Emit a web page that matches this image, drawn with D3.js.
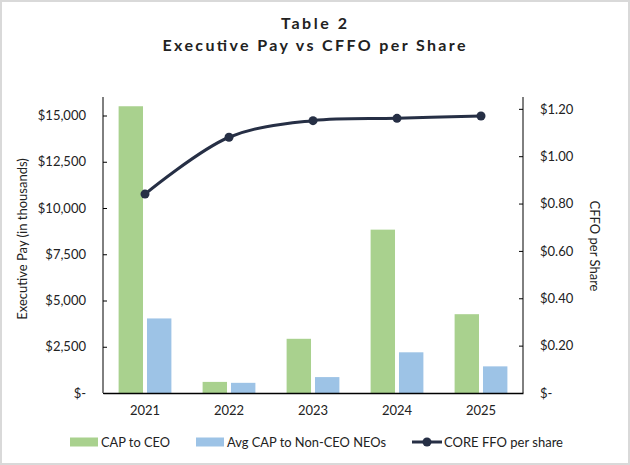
<!DOCTYPE html>
<html>
<head>
<meta charset="utf-8">
<script src="https://cdn.jsdelivr.net/npm/d3@7"></script>
<style>
  body { margin: 0; background: #fff; }
  svg text { font-family: Lato, "Open Sans", sans-serif; fill: #222; }
</style>
</head>
<body>
<div id="chart"></div>
<script>
// data
var years = ["2021", "2022", "2023", "2024", "2025"];
var capCeo = [15500, 600, 2930, 8830, 4260];
var capNeo = [4030, 550, 860, 2200, 1440];
var coreFfo = [0.84, 1.08, 1.15, 1.16, 1.17];
var payTicks = [0, 2500, 5000, 7500, 10000, 12500, 15000];
var ffoTicks = [0, 0.2, 0.4, 0.6, 0.8, 1.0, 1.2];
var seriesNames = ["CAP to CEO", "Avg CAP to Non-CEO NEOs", "CORE FFO per share"];

var svgWidth = 630;
var svgHeight = 465;
var margin = { top: 97, right: 107, bottom: 72, left: 103 };
var width = svgWidth - margin.left - margin.right;
var height = svgHeight - margin.top - margin.bottom;

var green = "#a9d18e", blue = "#9dc3e6", navy = "#262f45";

var svg = d3.select("#chart").append("svg")
  .attr("width", svgWidth)
  .attr("height", svgHeight);

svg.append("rect")
  .attr("x", 1).attr("y", 1)
  .attr("width", svgWidth - 2).attr("height", svgHeight - 2)
  .attr("fill", "#fff")
  .attr("stroke", "#d9d9d9")
  .attr("stroke-width", 2);

// title
svg.append("text")
  .attr("x", 314).attr("y", 29)
  .attr("text-anchor", "middle")
  .attr("textLength", 66).attr("lengthAdjust", "spacing")
  .style("font-size", "16px").style("font-weight", "bold")
  .text("Table 2");
svg.append("text")
  .attr("x", 314).attr("y", 51)
  .attr("text-anchor", "middle")
  .attr("textLength", 303).attr("lengthAdjust", "spacing")
  .style("font-size", "16px").style("font-weight", "bold")
  .text("Executive Pay vs CFFO per Share");

var chartGroup = svg.append("g")
  .attr("transform", `translate(${margin.left}, ${margin.top})`);

var x0 = d3.scaleBand().domain(years).range([0, width]);
var x1 = d3.scaleBand().domain([0, 1]).range([0, x0.bandwidth()])
  .paddingInner(0.14).paddingOuter(0.55);
var yLeft = d3.scaleLinear().domain([0, 16000]).range([height, 0]);
var yRight = d3.scaleLinear().domain([0, 1.25]).range([height, 0]);

// bars
var groups = chartGroup.selectAll(".year")
  .data(years)
  .enter()
  .append("g")
  .attr("transform", d => `translate(${x0(d)},0)`);

groups.append("rect")
  .attr("x", x1(0))
  .attr("width", x1.bandwidth())
  .attr("y", (d, i) => yLeft(capCeo[i]))
  .attr("height", (d, i) => height - yLeft(capCeo[i]))
  .attr("fill", green);

groups.append("rect")
  .attr("x", x1(1))
  .attr("width", x1.bandwidth())
  .attr("y", (d, i) => yLeft(capNeo[i]))
  .attr("height", (d, i) => height - yLeft(capNeo[i]))
  .attr("fill", blue);

// axes
var payFormat = d => d === 0 ? "$-" : "$" + d3.format(",")(d);
var ffoFormat = d => d === 0 ? "$-" : "$" + d3.format(".2f")(d);

var leftAxis = d3.axisRight(yLeft).tickValues(payTicks).tickSize(4).tickFormat(payFormat);
var gl = chartGroup.append("g").call(leftAxis);
gl.select(".domain").attr("stroke", "#000").attr("d", `M0,${height}V0`);
gl.selectAll(".tick text").attr("x", -17).attr("text-anchor", "end")
  .style("font-size", "13px").attr("fill", "#222");

var rightAxis = d3.axisLeft(yRight).tickValues(ffoTicks).tickSize(4).tickFormat(ffoFormat);
var gr = chartGroup.append("g").attr("transform", `translate(${width},0)`).call(rightAxis);
gr.select(".domain").attr("stroke", "#000").attr("d", `M0,${height}V0`);
gr.selectAll(".tick text").attr("x", 17).attr("text-anchor", "start")
  .style("font-size", "13px").attr("fill", "#222");

var bottomAxis = d3.axisBottom(x0).tickSize(0).tickPadding(13);
var gb = chartGroup.append("g").attr("transform", `translate(0, ${height})`).call(bottomAxis);
gb.select(".domain").attr("stroke", "#000").attr("stroke-width", 1.5);
gb.selectAll(".tick text").style("font-size", "13px").attr("fill", "#222");

d3.selectAll(".tick text").style("font-family", "Lato, sans-serif");

// line
var line = d3.line()
  .x((d, i) => x0(years[i]) + x0.bandwidth() / 2)
  .y(d => yRight(d))
  .curve(d3.curveCatmullRom.alpha(0.5));

chartGroup.append("path")
  .datum(coreFfo)
  .attr("d", line)
  .attr("fill", "none")
  .attr("stroke", navy)
  .attr("stroke-width", 3);

chartGroup.selectAll(".dot")
  .data(coreFfo)
  .enter()
  .append("circle")
  .attr("cx", (d, i) => x0(years[i]) + x0.bandwidth() / 2)
  .attr("cy", d => yRight(d))
  .attr("r", 4.5)
  .attr("fill", navy);

// axis titles
svg.append("text")
  .attr("transform", "translate(27, 239) rotate(-90)")
  .attr("text-anchor", "middle")
  .style("font-size", "13px")
  .text("Executive Pay (in thousands)");

svg.append("text")
  .attr("transform", "translate(590, 246) rotate(90)")
  .attr("text-anchor", "middle")
  .style("font-size", "13px")
  .text("CFFO per Share");

// legend (text widths matched to the original Calibri widths)
var legendWidths = [69, 159, 119];
var legend = svg.append("g");
var lx = 70, ly = 442;
seriesNames.forEach(function(name, i) {
  var item = legend.append("g").attr("transform", `translate(${lx},0)`);
  if (i < 2) {
    item.append("rect")
      .attr("x", 0).attr("y", ly - 4.5)
      .attr("width", 28).attr("height", 9)
      .attr("fill", i === 0 ? green : blue);
  } else {
    item.append("line")
      .attr("x1", 0).attr("x2", 30).attr("y1", ly).attr("y2", ly)
      .attr("stroke", navy).attr("stroke-width", 3);
    item.append("circle").attr("cx", 15).attr("cy", ly).attr("r", 4.5).attr("fill", navy);
  }
  var tx = i < 2 ? 31 : 32;
  item.append("text")
    .attr("x", tx).attr("y", ly).attr("dy", "0.35em")
    .attr("textLength", legendWidths[i]).attr("lengthAdjust", "spacingAndGlyphs")
    .style("font-size", "13px")
    .text(name);
  lx += tx + legendWidths[i] + 26;
});
</script>
</body>
</html>
